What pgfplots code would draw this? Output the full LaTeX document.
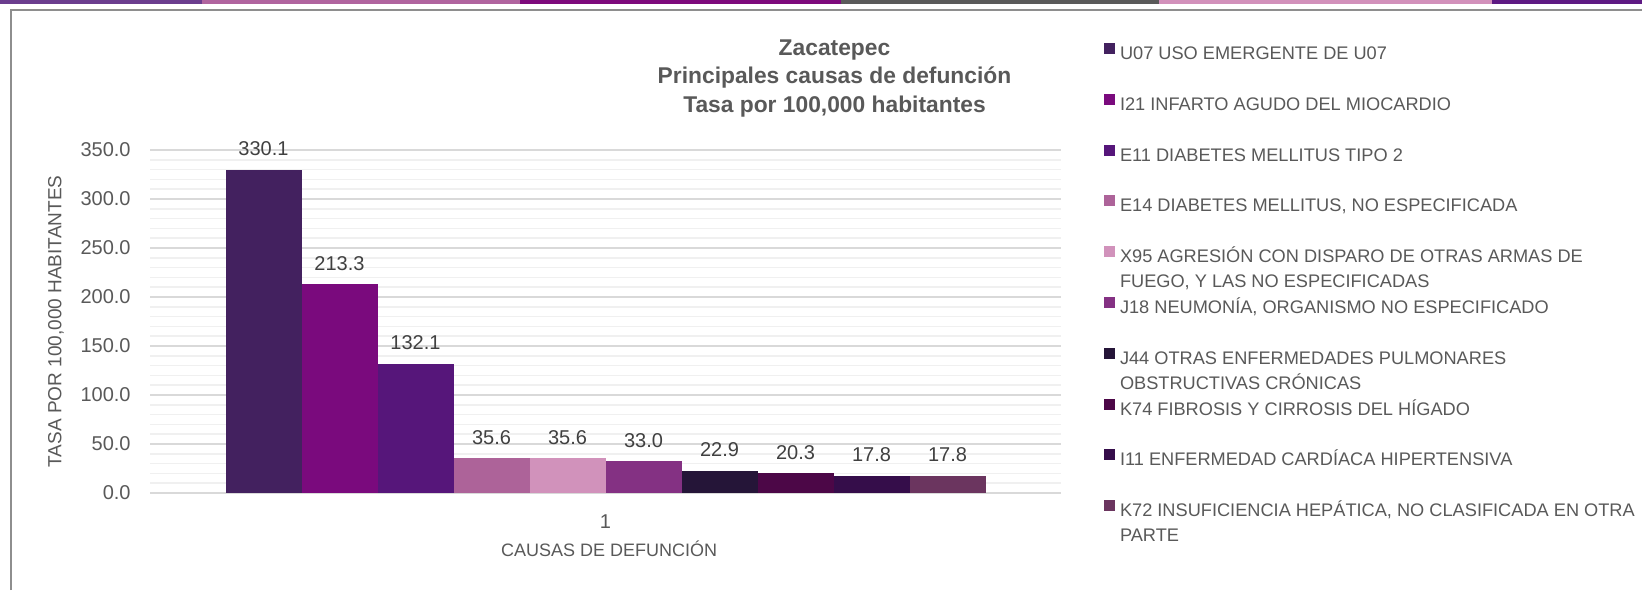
\documentclass[border=0pt]{standalone}
\usepackage{pgfplots}
\pgfplotsset{compat=1.18}
\usepackage{fontspec}
\setmainfont{Liberation Sans}
\definecolor{txt}{HTML}{595959}
\definecolor{lab}{HTML}{404040}
\definecolor{gridmaj}{HTML}{D9D9D9}
\definecolor{gridmin}{HTML}{F0F0F0}
\definecolor{frame}{HTML}{8E8E8E}
\definecolor{s1}{HTML}{6B3D8E}
\definecolor{s2}{HTML}{B0649F}
\definecolor{s3}{HTML}{7D0A7C}
\definecolor{s4}{HTML}{5A5A5A}
\definecolor{s5}{HTML}{D291BB}
\definecolor{s6}{HTML}{5E1A83}
\definecolor{c1}{HTML}{43215F}
\definecolor{c2}{HTML}{7A0A7D}
\definecolor{c3}{HTML}{56167A}
\definecolor{c4}{HTML}{AD6399}
\definecolor{c5}{HTML}{D192BB}
\definecolor{c6}{HTML}{843183}
\definecolor{c7}{HTML}{251538}
\definecolor{c8}{HTML}{4C0747}
\definecolor{c9}{HTML}{350D4A}
\definecolor{c10}{HTML}{6B355F}
\newcommand{\twoline}[2]{\begin{tabular}[t]{@{}l@{}}#1\\#2\end{tabular}}
\begin{document}
\begin{tikzpicture}
\path[use as bounding box] (0,0) rectangle (821pt,295pt);
\fill[white] (0,0) rectangle (821pt,295pt);
\begin{scope}[x=0.5pt,y=0.5pt]
\fill[s1] (0,586) rectangle (202,590);
\fill[s2] (202,586) rectangle (520,590);
\fill[s3] (520,586) rectangle (841,590);
\fill[s4] (841,586) rectangle (1159,590);
\fill[s5] (1159,586) rectangle (1492,590);
\fill[s6] (1492,586) rectangle (1642,590);
\draw[frame, line width=1pt] (11,0) -- (11,580) -- (1642,580);
\node[anchor=base, text=txt, font=\bfseries\fontsize{11.4}{13}\selectfont] at (834.5,534) {Zacatepec};
\node[anchor=base, text=txt, font=\bfseries\fontsize{11.4}{13}\selectfont] at (834.5,506) {Principales causas de defunción};
\node[anchor=base, text=txt, font=\bfseries\fontsize{11.4}{13}\selectfont] at (834.5,477.5) {Tasa por 100,000 habitantes};
\end{scope}
\begin{axis}[
  at={(75pt,48.5pt)}, anchor=south west,
  scale only axis, width=455.5pt, height=171.5pt,
  ybar=0pt, bar width=38pt,
  legend image code/.code={\fill[#1] (0pt,0.3pt) rectangle (5.5pt,5.8pt);},
  xmin=0.5, xmax=1.5, ymin=0, ymax=350,
  xtick={1}, ytick={0,50,...,350}, minor y tick num=4,
  ymajorgrids, yminorgrids,
  major grid style={draw=gridmaj, line width=0.75pt},
  minor grid style={draw=gridmin, line width=0.75pt},
  axis line style={draw=none},
  tick style={draw=none},
  clip=false,
  /pgf/number format/assume math mode=true,
  tick label style={font=\fontsize{10}{12}\selectfont, text=txt},
  yticklabel style={/pgf/number format/fixed, /pgf/number format/fixed zerofill, /pgf/number format/precision=1, inner sep=0pt, xshift=-9.5pt},
  xticklabel style={anchor=center, yshift=-10pt},
  ylabel={TASA POR 100,000 HABITANTES},
  ylabel style={at={(axis description cs:-0.1032,0.5)}, anchor=center, font=\fontsize{9.5}{11}\selectfont, text=txt},
  xlabel={CAUSAS DE DEFUNCIÓN},
  xlabel style={at={(axis description cs:0.504,0)}, anchor=center, yshift=-28pt, font=\fontsize{9}{11}\selectfont, text=txt},
  nodes near coords={\pgfmathprintnumber[fixed,fixed zerofill,precision=1]{\pgfplotspointmeta}},
  nodes near coords style={font=\fontsize{10}{12}\selectfont, text=lab, inner sep=0pt, yshift=6.5pt},
  legend cell align=left,
  legend style={at={(axis description cs:1.0472,1.312)}, anchor=north west, draw=none, fill=none,
    inner sep=0pt, outer sep=0pt, row sep=15.1pt,
    font=\fontsize{9.1}{12.5}\selectfont, text=txt,
    nodes={inner sep=0pt, text height=7pt, text depth=2pt},
    /tikz/every odd column/.append style={column sep=2.5pt}},
]
\addplot[fill=c1, draw=none] coordinates {(1,330.1)};
\addlegendentry{U07 USO EMERGENTE DE U07}
\addplot[fill=c2, draw=none] coordinates {(1,213.3)};
\addlegendentry{I21 INFARTO AGUDO DEL MIOCARDIO}
\addplot[fill=c3, draw=none] coordinates {(1,132.1)};
\addlegendentry{E11 DIABETES MELLITUS TIPO 2}
\addplot[fill=c4, draw=none] coordinates {(1,35.6)};
\addlegendentry{E14 DIABETES MELLITUS, NO ESPECIFICADA}
\addplot[fill=c5, draw=none] coordinates {(1,35.6)};
\addlegendentry{\twoline{X95 AGRESIÓN CON DISPARO DE OTRAS ARMAS DE}{FUEGO, Y LAS NO ESPECIFICADAS}}
\addplot[fill=c6, draw=none] coordinates {(1,33.0)};
\addlegendentry{J18 NEUMONÍA, ORGANISMO NO ESPECIFICADO}
\addplot[fill=c7, draw=none] coordinates {(1,22.9)};
\addlegendentry{\twoline{J44 OTRAS ENFERMEDADES PULMONARES}{OBSTRUCTIVAS CRÓNICAS}}
\addplot[fill=c8, draw=none] coordinates {(1,20.3)};
\addlegendentry{K74 FIBROSIS Y CIRROSIS DEL HÍGADO}
\addplot[fill=c9, draw=none] coordinates {(1,17.8)};
\addlegendentry{I11 ENFERMEDAD CARDÍACA HIPERTENSIVA}
\addplot[fill=c10, draw=none] coordinates {(1,17.8)};
\addlegendentry{\twoline{K72 INSUFICIENCIA HEPÁTICA, NO CLASIFICADA EN OTRA}{PARTE}}
\end{axis}
\end{tikzpicture}
\end{document}
